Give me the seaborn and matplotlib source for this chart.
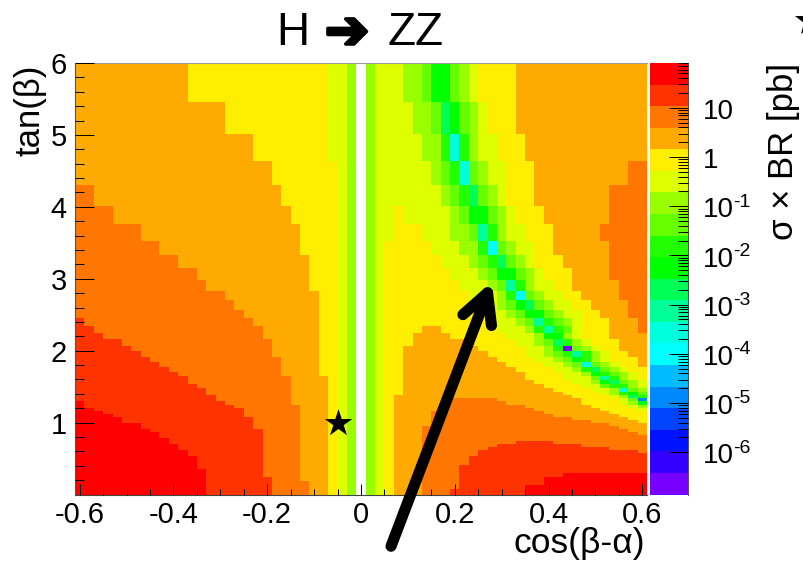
import numpy as np
import matplotlib
matplotlib.use('Agg')
import matplotlib.pyplot as plt
import matplotlib.patheffects as pe
from matplotlib.colors import ListedColormap, LogNorm
from matplotlib.ticker import FixedLocator, NullFormatter
import seaborn as sns

# colour bands of the z axis, top one first
band_colors = ['#ff0000', '#ff3300', '#ff7700', '#ffaa00', '#ffee00', '#ddff00', '#99ff00', '#66ff00',
               '#22ff00', '#00ff00', '#00ff55', '#00ff99', '#00ffdd', '#00ffff', '#00bbff', '#0088ff',
               '#0044ff', '#0011ff', '#3300ff', '#7700ff']
band_names = '0123456789abcdefghij'
log_top = 1.912
log_bottom = -6.858

# tan(beta) edges of the bins, top to bottom
tan_edges = [6.00, 5.46, 5.01, 4.64, 4.30, 4.01, 3.76, 3.53, 3.33, 3.15, 2.98, 2.83, 2.71, 2.57, 2.45,
             2.34, 2.25, 2.16, 2.07, 2.00, 1.91, 1.84, 1.77, 1.70, 1.65, 1.59, 1.54, 1.48, 1.43, 1.38,
             1.34, 1.30, 1.24, 1.20, 1.16, 1.12, 1.08, 1.04, 0.99, 0.95, 0.91, 0.87, 0.83, 0.79, 0.74,
             0.70, 0.66, 0.62, 0.58, 0.54, 0.49, 0.45, 0.41, 0.35, 0.30, 0.24, 0.19, 0.13, 0.08, 0.00]

# bands per row, "3x12" = band 3 for 12 bins
# cos(beta-alpha) from -0.60 to 0.00
left_rows = [
    '3x12 4x15 5x2 6 .', '3x16 4x11 5x2 6 .', '3x19 4x8 5x2 6 .', '3x21 4x7 5 6 .',
    '2x2 3x20 4x6 5 6 .', '2x4 3x19 4x5 5 6 .', '2x7 3x17 4x4 5 6 .', '2x9 3x15 4x4 5 6 .',
    '2x11 3x14 4x3 5 6 .', '2x13 3x12 4x3 5 6 .',
    '2x14 3x11 4x3 5 6 .', '2x16 3x10 4x2 5 6 .', '2x17 3x9 4x2 5 6 .', '2x18 3x8 4x2 5 6 .',
    '1 2x18 3x7 4x2 5 6 .', '1x2 2x18 3x6 4x2 5 6 .', '1x3 2x17 3x6 4x2 5 6 .', '1x5 2x16 3x5 4x2 5 6 .',
    '1x6 2x15 3x5 4x2 5 6 .', '1x7 2x14 3x5 4x2 5 6 .', '1x8 2x14 3x4 4x2 5 6 .', '1x9 2x13 3x4 4x2 5 6 .',
    '1x10 2x12 3x4 4x2 5 6 .', '1x11 2x11 3x4 4x2 5 6 .', '1x12 2x11 3x4 4 5 6 .', '1x12 2x11 3x4 4 5 6 .',
    '1x13 2x10 3x4 4 5 6 .', '1x14 2x9 3x4 4 5 6 .', '1x14 2x9 3x4 4 5 6 .', '1x15 2x8 3x4 4 5 6 .',
    '1x15 2x8 3x4 4 5 6 .', '0 1x15 2x7 3x4 4 5 6 .', '0 1x16 2x7 3x3 4 5 6 .', '0x2 1x16 2x6 3x3 4 5 6 .',
    '0x3 1x15 2x6 3x3 4 5 6 .', '0x4 1x14 2x6 3x3 4 5 6 .', '0x5 1x14 2x5 3x3 4 5 6 .', '0x5 1x14 2x5 3x3 4 5 6 .',
    '0x7 1x12 2x5 3x3 4 5 6 .', '0x7 1x12 2x5 3x3 4 5 6 .', '0x8 1x12 2x4 3x3 4 5 6 .', '0x9 1x11 2x4 3x3 4 5 6 .',
    '0x9 1x11 2x4 3x3 4 5 6 .', '0x10 1x10 2x4 3x3 4 5 6 .', '0x10 1x10 2x4 3x3 4 5 6 .', '0x11 1x9 2x4 3x3 4 5 6 .',
    '0x11 1x9 2x4 3x3 4 5 6 .', '0x12 1x8 2x4 3x3 4 5 6 .', '0x12 1x8 2x4 3x3 4 5 6 .', '0x13 1x7 2x4 3x3 4 5 6 .',
    '0x13 1x7 2x4 3x3 4 5 6 .', '0x13 1x7 2x4 3x3 4 5 6 .', '0x13 1x7 2x4 3x3 4 5 6 .', '0x14 1x6 2x4 3x3 4 5 6 .',
    '0x14 1x6 2x4 3x3 4 5 6 .', '0x14 1x7 2x3 3x3 4 5 6 .', '0x14 1x7 2x4 3x2 4 5 6 .', '0x14 1x7 2x4 3x2 4 5 6 .',
    '0x14 1x7 2x4 3x2 4 5 6 .',
]
# cos(beta-alpha) from 0.02 to 0.60
right_rows = [
    '6 5x3 6x2 7 9x2 7 6 5 4x4 3x14',
    '6 5x4 6x2 7 a 9 7 6 5 4x3 3x14',
    '6 5x5 6x2 8 c 8 6 5x2 4x3 3x13',
    '6 5x6 6 7 8 c 7 6 5x2 4x3 3x10 2x2',
    '6 5x7 6 7 8 a 7 6 5 4x3 3x8 2x4',
    '6 5x2 4 5x5 6 7 9x2 7 6 5 4x3 3x7 2x4',
    '6 5x2 4x3 5x3 6x2 7 b 8 6 5x2 4x3 3x5 2x5',
    '6 5 4x5 5x3 6x2 8 d 7 6 5x2 4x2 3x6 2x4',
    '6 5 4x6 5x3 6 7 8 a 7 6 5 4x3 3x5 2x4',
    '6 5 4x7 5x3 6 7 9x2 7 6 5 4x3 3x4 2x4',
    '6 5 4x8 5x3 6 7 b 8 6 5x2 4x2 3x5 2x3',
    '6 5 4x9 5x3 6 8 d 7 6 5x2 4x2 3x4 2x3',
    '6 5 4x10 5x2 6 7 9 a 7 6 5x2 4x2 3x4 2x2',
    '6 5 4x11 5x2 6 7 9x2 7 6 5x2 4x2 3x3 2x2',
    '6 5 4x11 5x3 6 7 b 8 7 6 5 4x3 3x3 2',
    '6 5 4x4 3x2 4x6 5x3 6 8 b 8 7 5 4x3 3x3 2',
    '6 5 4x3 3x4 4x6 5x3 6 9x2 6 5 4x3 3x4',
    '6 5 4x3 3x6 4x5 5x2 6 7 a 8 6 5 4x3 3x3',
    '6 5 4x2 3x8 4x5 5x2 6 8 j 7 6 5 4x2 3x3',
    '6 5 4x2 3x9 4x4 5x2 6 7 8 b 8 6 5 4x2 3x2',
    '6 5 4x2 3x10 4x4 5x2 6 7 9 8 6 5 4x3 3',
    '6 5 4x2 3x11 4x4 5x2 6 7 c 7 6 5 4x2 3',
    '6 5 4x2 3x12 4x4 5x2 6 8 a 7 6 5 4x2',
    '6 5 4x2 3x13 4x4 5x2 6 9 8 7 6 5 4',
    '6 5 4x2 3x13 4x4 5x3 7 b 8 6 5 4',
    '6 5 4x2 3x14 4x4 5x2 6 9 a 7 6 5',
    '6 5 4x2 3x15 4x4 5x2 7 8x2 6 5',
    '6 5 4x2 3x16 4x4 5x2 6 c 7 6',
    '6 5 4x2 3x17 4x4 5 6 8 9 7',
    '6 5 4 3x19 4x4 5 6 a 8',
    '6 5 4 3x6 2x5 3x9 4x4 5 7 f',
    '6 5 4 3x6 2x6 3x8 4x4 5 6 9',
    '6 5 4 3x5 2x9 3x7 4x4 5 6',
    '6 5 4 3x5 2x10 3x7 4x4 5',
    '6 5 4 3x4 2x12 3x7 4x4',
    '6 5 4 3x4 2x13 3x7 4x3',
    '6 5 4 3x4 2x15 3x6 4x2',
    '6 5 4 3x4 2x17 3x5 4',
    '6 5 4 3x4 2x19 3x4',
    '6 5 4 3x3 2x21 3x3',
    '6 5 4 3x3 2x22 3x2',
    '6 5 4 3x3 2x23 3',
    '6 5 4 3x3 2x24',
    '6 5 4 3x3 2x24',
    '6 5 4 3x3 2x10 1x4 2x10',
    '6 5 4 3x3 2x8 1x9 2x7',
    '6 5 4 3x3 2x7 1x13 2x4',
    '6 5 4 3x3 2x6 1x17 2',
    '6 5 4 3x3 2x6 1x18',
    '6 5 4 3x3 2x5 1x19',
    '6 5 4 3x3 2x5 1x19',
    '6 5 4 3x3 2x5 1x19',
    '6 5 4 3x3 2x4 1x20',
    '6 5 4 3x3 2x4 1x20',
    '6 5 4 3x3 2x4 1x11 0x9',
    '6 5 4 3x3 2x4 1x9 0x11',
    '6 5 4 3x3 2x4 1x9 0x11',
    '6 5 4 3x3 2x4 1x7 0x13',
    '6 5 4 3x3 2x3 1x8 0x13',
]

x_ticks = [-0.6, -0.4, -0.2, 0, 0.2, 0.4, 0.6]
x_labels = ['-0.6', '-0.4', '-0.2', '0', '0.2', '0.4', '0.6']
x_minor = [-0.55, -0.5, -0.45, -0.35, -0.3, -0.25, -0.15, -0.1, -0.05, 0.05, 0.1, 0.15, 0.25, 0.3, 0.35, 0.45, 0.5, 0.55]
y_ticks = [1, 2, 3, 4, 5, 6]
y_minor = [t / 5 for t in range(1, 30) if t % 5 != 0]
z_decades = [10, 1, 1e-1, 1e-2, 1e-3, 1e-4, 1e-5, 1e-6]
z_exponents = ['', '', '-1', '-2', '-3', '-4', '-5', '-6']
z_bases = ['10', '1', '10', '10', '10', '10', '10', '10']

star_x, star_tan = -0.05, 1.0
arrow_tip = (0.279, 2.96)
arrow_tail = (0.064, -0.72)

sns.set_style('ticks', {'text.color': 'black', 'xtick.color': 'black', 'ytick.color': 'black'})
plt.rcParams['font.family'] = ['Liberation Sans', 'DejaVu Sans']
plt.rcParams['axes.unicode_minus'] = False


def expand(row):
    out = []
    for tok in row.split():
        name, _, n = tok.partition('x')
        out += [name] * int(n or 1)
    return out


band_width = (log_top - log_bottom) / len(band_colors)
rows = []
for left, right in zip(left_rows, right_rows):
    names = expand(left) + expand(right)
    rows.append([np.nan if n == '.' else 10 ** (log_top - (band_names.index(n) + 0.5) * band_width) for n in names])
rows = np.array(rows)

# the tan(beta) bins are not even, heatmap cells are: repeat each row on a fine grid
dt = 0.01
fine_tan = 6 - (np.arange(600) + 0.5) * dt
row_idx = np.searchsorted(-np.array(tan_edges), -fine_tan) - 1
z = rows[row_idx]


def col_pos(x):
    return (np.asarray(x) + 0.61) / 0.02


def row_pos(t):
    return (6 - np.asarray(t)) / dt


W, H = 804, 565
fig = plt.figure(figsize=(W / 100, H / 100), dpi=100)
ax = fig.add_axes([75 / W, 1 - 494.5 / H, 572 / W, 431.5 / H])
cax = fig.add_axes([650 / W, 1 - 494.5 / H, 37.5 / W, 431.5 / H])

cmap = ListedColormap(band_colors[::-1])
sns.heatmap(z, ax=ax, cbar_ax=cax, cmap=cmap, norm=LogNorm(10 ** log_bottom, 10 ** log_top),
            xticklabels=False, yticklabels=False)
ax.set_axisbelow(False)
cax.set_axisbelow(False)

ax.set_xticks(col_pos(x_ticks))
ax.set_xticklabels(x_labels)
ax.set_xticks(col_pos(x_minor), minor=True)
ax.set_yticks(row_pos(y_ticks))
ax.set_yticklabels([str(t) for t in y_ticks], rotation=0)
ax.set_yticks(row_pos(y_minor), minor=True)
ax.tick_params(axis='x', which='major', direction='in', length=8, width=0.7, pad=5, labelsize=21, color='black')
ax.tick_params(axis='x', which='minor', direction='in', length=4, width=0.7, color='black')
ax.tick_params(axis='y', which='major', direction='in', length=13.5, width=0.7, pad=6, labelsize=21, color='black')
ax.tick_params(axis='y', which='minor', direction='in', length=6.5, width=0.7, color='black')
for side in ['left', 'bottom', 'top']:
    ax.spines[side].set_visible(True)
    ax.spines[side].set_linewidth(0.8)
ax.spines['left'].set_color('#555555')
ax.spines['bottom'].set_color('#444444')
ax.spines['top'].set_color('#999999')

# colour bar axis
cax.yaxis.set_major_locator(FixedLocator(z_decades))
minor = [m * d for d in z_decades + [100] for m in range(2, 10)]
cax.yaxis.set_minor_locator(FixedLocator([v for v in minor if 10 ** log_bottom < v < 10 ** log_top]))
cax.yaxis.set_major_formatter(NullFormatter())
cax.yaxis.set_minor_formatter(NullFormatter())
cax.tick_params(axis='y', which='major', direction='in', right=True, left=False, length=14, width=0.7, color='black')
cax.tick_params(axis='y', which='minor', direction='in', right=True, left=False, length=7, width=0.7, color='black')
cax.spines['right'].set_visible(True)
cax.spines['right'].set_color('#555555')
cax.spines['right'].set_linewidth(0.8)
for base, exp, val in zip(z_bases, z_exponents, z_decades):
    cax.annotate(base, (1, val), xycoords=('axes fraction', 'data'), xytext=(11, -3), textcoords='offset points',
                 fontsize=20, ha='left', va='center')
    if exp:
        cax.annotate(exp, (1, val), xycoords=('axes fraction', 'data'), xytext=(33, 3), textcoords='offset points',
                     fontsize=14, ha='left', va='center')

ax.scatter(col_pos(star_x), row_pos(star_tan), marker='*', s=430, color='black', linewidths=0, zorder=5)
fig.add_artist(plt.Line2D([810 / W], [1 - 21 / H], marker='*', markersize=23, color='black', markeredgewidth=0))

ax.annotate('', xy=(col_pos(arrow_tip[0]), row_pos(arrow_tip[1])),
            xytext=(col_pos(arrow_tail[0]), row_pos(arrow_tail[1])), annotation_clip=False,
            arrowprops=dict(arrowstyle='->,head_length=2.1,head_width=1.1', mutation_scale=10, lw=8,
                            color='black', shrinkA=0, shrinkB=0))

fig.text(276 / W, 1 - 45 / H, 'H', fontsize=33, ha='left', va='baseline')
fig.text(347 / W, 1 - 33 / H, '\u2794', fontsize=38, ha='center', va='center', family='DejaVu Sans',
         path_effects=[pe.withStroke(linewidth=2.5, foreground='black')])
fig.text(388 / W, 1 - 45 / H, 'ZZ', fontsize=33, ha='left', va='baseline')
fig.text(645 / W, 1 - 553 / H, 'cos(\u03b2-\u03b1)', fontsize=25.5, ha='right', va='baseline')
fig.text(30 / W, 1 - 65 / H, 'tan(\u03b2)', fontsize=25, rotation=90, ha='center', va='top')
fig.text(784 / W, 1 - 63 / H, '\u03c3 \u00d7 BR [pb]', fontsize=25, rotation=90, ha='center', va='top')

plt.savefig('out.png', dpi=100)
